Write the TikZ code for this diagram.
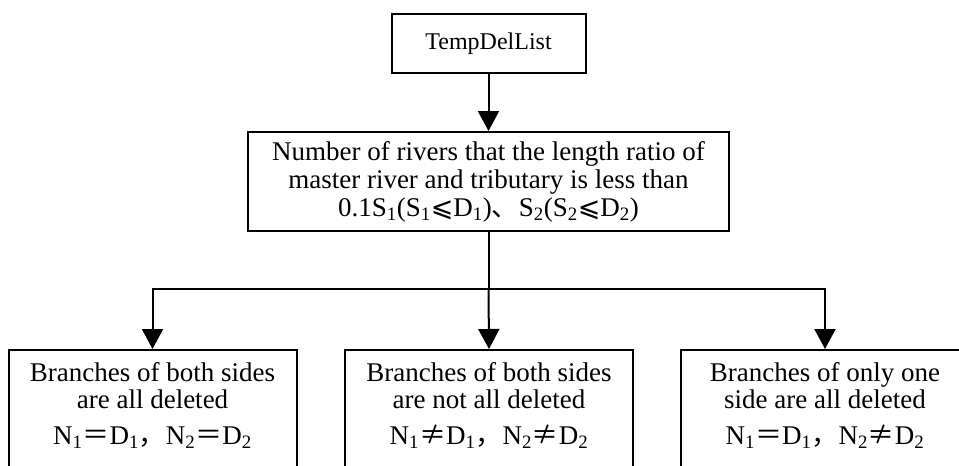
\documentclass[tikz,border=0pt]{standalone}
\usepackage{fontspec}
\setmainfont{Liberation Serif}
\newfontfamily\cjkfont{Noto Sans CJK SC}
\newfontfamily\relfont{DejaVu Sans}
\usetikzlibrary{arrows.meta}
\tikzset{box/.style={draw,line width=2pt,align=center,font=\fontsize{27}{28}\selectfont}}
\tikzset{leaf/.style={box,anchor=north,minimum width=288,inner ysep=12.5pt,inner xsep=6pt,font=\fontsize{27}{27}\selectfont}}
\tikzset{flow/.style={line width=2pt,-{Triangle[length=20pt,width=21pt]}}}
\newcommand{\leaftext}[1]{\parbox[t][130pt][t]{276pt}{\centering #1}}

\begin{document}
\begin{tikzpicture}[x=1pt,y=-1pt]
  % page frame
  \useasboundingbox (0,0) rectangle (959,466);
  \clip (0,0) rectangle (959,466);
  % the boxes
  \node[box,minimum width=194,minimum height=59,font=\fontsize{24}{27}\selectfont] (list) at (488.5,43.5) {TempDelList};
  \node[box,minimum width=481,minimum height=99] (ratio) at (488.5,181.5)
    {Number of rivers that the length ratio of\\
     master river and tributary is less than\\
     0.1S\textsubscript{1}(S\textsubscript{1}{\relfont ⩽}D\textsubscript{1}){\cjkfont 、}S\textsubscript{2}(S\textsubscript{2}{\relfont ⩽}D\textsubscript{2})};
  \node[leaf] (both) at (152.5,349) {\leaftext{Branches of both sides\\
    are all deleted\\[9pt]
    N\textsubscript{1}{\cjkfont ＝}D\textsubscript{1}{\cjkfont ，}N\textsubscript{2}{\cjkfont ＝}D\textsubscript{2}}};
  \node[leaf] (notall) at (489,349) {\leaftext{Branches of both sides\\
    are not all deleted\\[9pt]
    N\textsubscript{1}{\cjkfont ≠}D\textsubscript{1}{\cjkfont ，}N\textsubscript{2}{\cjkfont ≠}D\textsubscript{2}}};
  \node[leaf] (oneside) at (825,349) {\leaftext{Branches of only one\\
    side are all deleted\\[9pt]
    N\textsubscript{1}{\cjkfont ＝}D\textsubscript{1}{\cjkfont ，}N\textsubscript{2}{\cjkfont ≠}D\textsubscript{2}}};
  % the connectors
  \coordinate (fork) at (488.5,289);
  \draw[flow] (list) -- (ratio);
  \draw[line width=2pt] (ratio.south) -- (fork);
  \draw[flow] (fork) -| (both.north);
  \draw[flow] (fork) -- (notall.north);
  \draw[flow] (fork) -| (oneside.north);
\end{tikzpicture}
\end{document}
